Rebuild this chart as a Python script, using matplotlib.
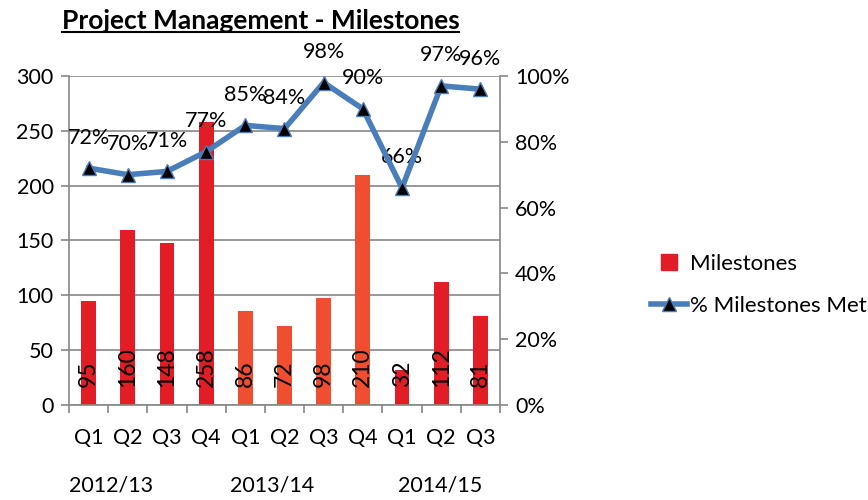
import matplotlib
matplotlib.use('Agg')
import matplotlib.pyplot as plt
from matplotlib.lines import Line2D

plt.rcParams['font.family'] = ['Lato', 'DejaVu Sans']

quarters   = ['Q1', 'Q2', 'Q3', 'Q4', 'Q1', 'Q2', 'Q3', 'Q4', 'Q1', 'Q2', 'Q3']
years      = ['2012/13', '2013/14', '2014/15']
year_pos   = [0.57, 4.68, 8.96]
milestones = [95, 160, 148, 258, 86, 72, 98, 210, 32, 112, 81]
pct_met    = [72, 70, 71, 77, 85, 84, 98, 90, 66, 97, 96]
year_idx   = [0, 0, 0, 0, 1, 1, 1, 1, 2, 2, 2]

RED    = '#E31D25'
ORANGE = '#F04E31'
BLUE   = '#4A7EBB'
GRID   = '#888888'
FS     = 15.5
bar_colors = [RED, ORANGE, RED]

fig = plt.figure(figsize=(8.68, 5.0), dpi=100)
ax = fig.add_axes([0.0795, 0.19, 0.4965, 0.658])
ax2 = ax.twinx()

x = list(range(len(quarters)))
ax.bar(x, milestones, width=0.38, color=[bar_colors[k] for k in year_idx], zorder=2)
for xi, v in zip(x, milestones):
    ax.annotate(str(v), xy=(xi, 0), xytext=(0, 13), textcoords='offset points',
                rotation=90, ha='center', va='bottom', fontsize=16.5, zorder=3)

ax.set_ylim(0, 300)
ax.set_yticks(range(0, 301, 50))
ax.set_xlim(-0.5, len(quarters) - 0.5)
ax.yaxis.grid(True, color=GRID, lw=1.2, zorder=0)
ax.set_axisbelow(True)
ax.set_xticks([i - 0.5 for i in range(len(quarters) + 1)])
ax.set_xticklabels([])
ax.tick_params(axis='x', length=6, color=GRID, width=1.2)
ax.tick_params(axis='y', length=6, color=GRID, width=1.2, labelsize=FS, pad=5)
for s in ['top', 'right']:
    ax.spines[s].set_visible(False)
for s in ['left', 'bottom']:
    ax.spines[s].set_color(GRID)
    ax.spines[s].set_linewidth(1.2)

for xi, q in zip(x, quarters):
    ax.text(xi, -0.1, q, transform=ax.get_xaxis_transform(), ha='center', va='center', fontsize=FS)
for yp, yl in zip(year_pos, years):
    ax.text(yp, -0.245, yl, transform=ax.get_xaxis_transform(), ha='center', va='center', fontsize=FS)

ax2.plot(x, [p / 100 for p in pct_met], color=BLUE, lw=4, marker='^', markersize=10,
         markerfacecolor='black', markeredgecolor=BLUE, markeredgewidth=1, zorder=4)
for xi, p in zip(x, pct_met):
    ax2.annotate(f'{p}%', xy=(xi, p / 100), xytext=(0, 22), textcoords='offset points',
                 ha='center', va='center', fontsize=FS)
ax2.set_ylim(0, 1)
ax2.set_yticks([0, 0.2, 0.4, 0.6, 0.8, 1.0])
ax2.set_yticklabels(['0%', '20%', '40%', '60%', '80%', '100%'])
ax2.tick_params(axis='y', length=6, color=GRID, width=1.2, labelsize=FS, pad=5)
for s in ['top', 'left', 'bottom']:
    ax2.spines[s].set_visible(False)
ax2.spines['right'].set_color(GRID)
ax2.spines['right'].set_linewidth(1.2)

handles = [Line2D([0], [0], color=RED, marker='s', linestyle='none', markersize=11),
           Line2D([0], [0], color=BLUE, lw=4, marker='^', markersize=10,
                  markerfacecolor='black', markeredgecolor=BLUE)]
fig.legend(handles, ['Milestones', '% Milestones Met'], loc='center left',
           bbox_to_anchor=(0.727, 0.43), frameon=False, fontsize=16,
           handlelength=1.6, handletextpad=0.15, labelspacing=1.0)

title = fig.text(0.071, 0.958, 'Project Management - Milestones', fontsize=19,
                 fontweight='bold', ha='left', va='center')
fig.canvas.draw()
bb = title.get_window_extent().transformed(fig.transFigure.inverted())
fig.add_artist(Line2D([bb.x0, bb.x1], [bb.y0 + 0.002, bb.y0 + 0.002], color='black', lw=1.5))

fig.savefig('out.png', dpi=100)
